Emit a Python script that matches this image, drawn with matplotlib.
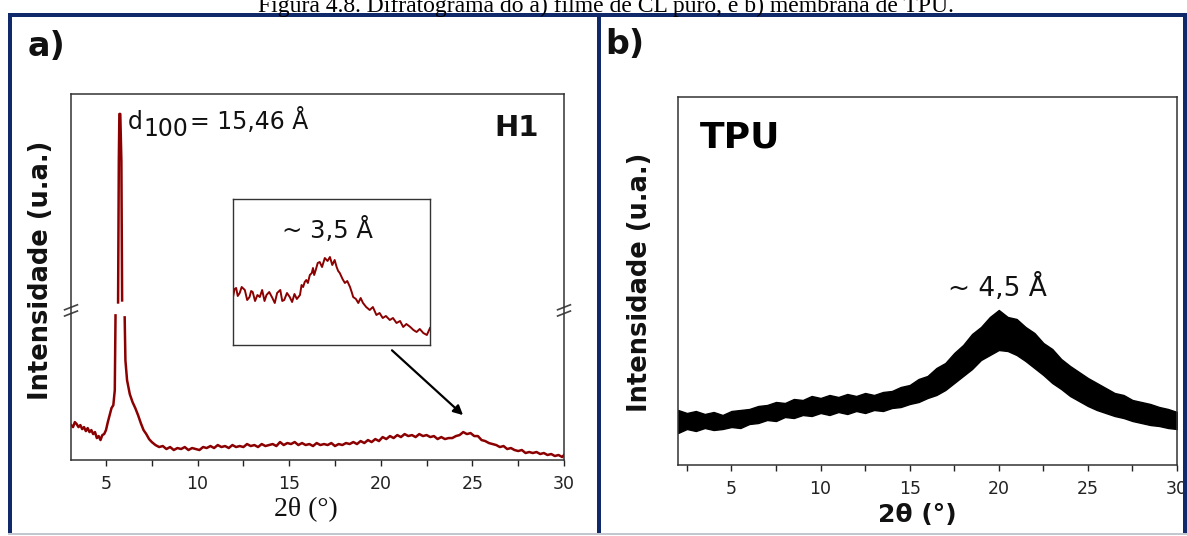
import numpy as np
import matplotlib
matplotlib.use("Agg")
import matplotlib.pyplot as plt
from matplotlib.lines import Line2D
from matplotlib.ticker import MultipleLocator

# ---------------- data ----------------
caption = "Figura 4.8. Difratograma do a) filme de CL puro, e b) membrana de TPU."

# Panel a (H1): 2theta and intensity (a.u.); NaN marks the axis break
h1_tt = [3.10, 3.20, 3.30, 3.40, 3.50, 3.60, 3.70, 3.80, 3.90, 4.00, 4.10, 4.20, 4.30, 4.40,
         4.50, 4.60, 4.70, 4.80, 4.90, 5.00, 5.10, 5.20, 5.30, 5.40, 5.48, 5.52, 5.58,
         5.66, 5.70, 5.73, 5.78, 5.84, 5.88, 5.95,
         6.02, 6.06, 6.15, 6.30, 6.45, 6.60, 6.75, 6.90, 7.05, 7.20, 7.35, 7.50, 7.70, 7.90,
         8.10, 8.30, 8.50, 8.70, 8.90, 9.10, 9.30, 9.50, 9.70, 9.90, 10.1, 10.3, 10.5, 10.7,
         10.9, 11.1, 11.3, 11.5, 11.7, 11.9, 12.1, 12.3, 12.5, 12.7, 12.9, 13.1, 13.3, 13.5,
         13.7, 13.9, 14.1, 14.3, 14.5, 14.7, 14.9, 15.1, 15.3, 15.5, 15.7, 15.9, 16.1, 16.3,
         16.5, 16.7, 16.9, 17.1, 17.3, 17.5, 17.7, 17.9, 18.1, 18.3, 18.5, 18.7, 18.9, 19.1,
         19.3, 19.5, 19.7, 19.9, 20.1, 20.3, 20.5, 20.7, 20.9, 21.1, 21.3, 21.5, 21.7, 21.9,
         22.1, 22.3, 22.5, 22.7, 22.9, 23.1, 23.3, 23.5, 23.7, 23.9, 24.1, 24.3, 24.5, 24.7,
         24.9, 25.1, 25.3, 25.5, 25.7, 25.9, 26.1, 26.3, 26.5, 26.7, 26.9, 27.1, 27.3, 27.5,
         27.7, 27.9, 28.1, 28.3, 28.5, 28.7, 28.9, 29.1, 29.3, 29.5, 29.7, 29.9, 30.0]
h1_int = [35, 33, 38, 36, 33, 35, 31, 33, 29, 32, 28, 30, 26, 28,
          22, 24, 20, 25, 26, 30, 38, 45, 52, 55, 70, 145, np.nan,
          158, 300, 347, 347, 300, 160, np.nan,
          143, 100, 80, 66, 58, 52, 45, 37, 30, 26, 21, 18, 15, 13,
          14, 11, 13, 10, 12, 11, 13, 10, 12, 11, 10, 13, 12, 14,
          12, 15, 13, 14, 12, 15, 13, 14, 13, 16, 14, 15, 13, 16,
          14, 15, 16, 14, 18, 15, 17, 16, 18, 15, 17, 15, 16, 14,
          17, 15, 16, 15, 17, 14, 16, 15, 17, 16, 18, 16, 19, 17,
          20, 18, 21, 19, 23, 21, 24, 22, 25, 23, 26, 24, 25, 23,
          26, 24, 25, 23, 24, 21, 23, 21, 22, 22, 24, 25, 28, 26,
          27, 24, 24, 20, 19, 17, 16, 15, 13, 14, 11, 12, 10, 9,
          10, 7, 8, 7, 8, 6, 7, 5, 6, 4, 5, 3, 5]

# Inset (zoom of the ~3,5 A halo)
ins_tt = [22.00, 22.04, 22.08, 22.12, 22.17, 22.22, 22.30, 22.36, 22.42, 22.46, 22.50, 22.56,
          22.62, 22.68, 22.74, 22.80, 22.85, 22.92, 23.00, 23.06, 23.12, 23.20, 23.25, 23.30,
          23.37, 23.44, 23.50, 23.56, 23.62, 23.70, 23.74, 23.78, 23.82, 23.86, 23.90, 23.95,
          24.00, 24.03, 24.06, 24.10, 24.15, 24.20, 24.26, 24.33, 24.40, 24.46, 24.52, 24.58,
          24.63, 24.67, 24.71, 24.78, 24.84, 24.90, 24.97, 25.02, 25.05, 25.12, 25.18, 25.24,
          25.30, 25.38, 25.47, 25.55, 25.64, 25.72, 25.80, 25.88, 25.98, 26.06, 26.15, 26.24,
          26.32, 26.40, 26.50, 26.58, 26.66, 26.74, 26.83, 26.92, 27.00]
ins_int = [48, 56, 57, 49, 52, 58, 55, 45, 48, 54, 53, 44, 50, 48, 55, 44, 50, 53, 47, 42,
           52, 55, 44, 45, 52, 48, 43, 51, 46, 50, 60, 58, 63, 65, 62, 70, 72, 77, 70, 75,
           82, 83, 78, 87, 84, 88, 80, 85, 78, 74, 72, 66, 62, 64, 58, 52, 48, 46, 42, 47,
           42, 38, 35, 38, 30, 32, 27, 29, 25, 27, 22, 24, 18, 21, 18, 15, 13, 16, 12, 10, 17]

# Panel b (TPU): envelope of the noisy trace
tpu_tt = [2.0, 2.5, 3.0, 3.5, 4.0, 4.5, 5.0, 5.5, 6.0, 6.5, 7.0, 7.5, 8.0, 8.5, 9.0, 9.5,
          10.0, 10.5, 11.0, 11.5, 12.0, 12.5, 13.0, 13.5, 14.0, 14.5, 15.0, 15.5, 16.0, 16.5,
          17.0, 17.5, 18.0, 18.5, 19.0, 19.5, 20.0, 20.5, 21.0, 21.5, 22.0, 22.5, 23.0, 23.5,
          24.0, 24.5, 25.0, 25.5, 26.0, 26.5, 27.0, 27.5, 28.0, 28.5, 29.0, 29.5, 30.0]
tpu_lo = [32, 36, 34, 37, 35, 36, 38, 37, 41, 42, 45, 44, 48, 47, 50, 49,
          52, 50, 53, 51, 54, 52, 55, 54, 57, 58, 61, 63, 67, 70,
          75, 82, 89, 96, 105, 110, 115, 114, 110, 104, 97, 90, 82, 76,
          69, 64, 59, 55, 52, 49, 47, 44, 42, 40, 39, 37, 36]
tpu_hi = [55, 52, 54, 51, 53, 50, 54, 55, 56, 59, 60, 63, 62, 66, 65, 69,
          67, 70, 68, 71, 69, 72, 70, 73, 74, 78, 80, 86, 89, 97,
          102, 112, 120, 131, 138, 148, 155, 148, 146, 138, 132, 122, 116, 106,
          99, 93, 87, 82, 77, 72, 70, 65, 63, 61, 58, 56, 53]

x_major = 5
x_minor = 2.5

# ---------------- figure ----------------
W, H = 1187, 536
fig = plt.figure(figsize=(W / 100, H / 100), dpi=100)


def px_rect(l, t, r, b):
    return [l / W, 1 - b / H, (r - l) / W, (b - t) / H]


def fx(px):
    return px / W


def fy(py):
    return 1 - py / H


navy = "#10296b"
dark_red = "#8b0000"
spine_c = "#333333"

# caption (at the top edge)
fig.text(fx(606), fy(12), caption, family="Liberation Serif", fontsize=17,
         ha="center", va="baseline", color="black")

# frame lines
frame = [((8, 1187), (15, 15), navy, 4),
         ((10, 10), (15, 534), navy, 4),
         ((599, 599), (15, 534), navy, 4),
         ((1185, 1185), (15, 534), navy, 4),
         ((8, 1187), (534, 534), "#c3c7cf", 2)]
for xs, ys, c, w in frame:
    fig.add_artist(Line2D([fx(xs[0]), fx(xs[1])], [fy(ys[0]), fy(ys[1])],
                          transform=fig.transFigure, color=c, lw=w * 0.72,
                          solid_capstyle="butt"))

# ---- panel a ----
axa = fig.add_axes(px_rect(71, 94, 564, 460))
axa.plot(h1_tt, h1_int, color=dark_red, lw=1.8)
axa.set_xlim(3.09, 30)
axa.set_ylim(0, 367)

# ---- panel b ----
axb = fig.add_axes(px_rect(678, 97, 1177, 465))
axb.fill_between(tpu_tt, tpu_lo, tpu_hi, color="black", lw=1.0, edgecolor="black")
axb.set_xlim(2, 30)
axb.set_ylim(0, 368)

for ax in (axa, axb):
    ax.xaxis.set_major_locator(MultipleLocator(x_major))
    ax.xaxis.set_minor_locator(MultipleLocator(x_minor))
    ax.tick_params(axis="x", which="both", direction="out", length=4, width=1,
                   pad=7, labelsize=12.5, colors="#222222")
    ax.set_yticks([])
    for s in ax.spines.values():
        s.set_color(spine_c)
        s.set_linewidth(1.1)

# axis break marks on panel a
yb = (460 - 310) / 367
dx, dy, gap = 0.013, 0.0068, 0.0085
for xs in (0, 1):
    for off in (-gap, gap):
        axa.plot([xs - dx, xs + dx], [yb + off - dy, yb + off + dy],
                 transform=axa.transAxes, color="#444444", lw=1.2, clip_on=False)

# annotations panel a
axa.text(6.2, 332, "d", fontsize=17, family="DejaVu Sans", ha="left", va="baseline", color="#111")
axa.text(7.02, 325, "100", fontsize=17, family="DejaVu Sans", ha="left", va="baseline", color="#111")
axa.text(9.6, 332, "= 15,46 Å", fontsize=17, family="DejaVu Sans", ha="left", va="baseline", color="#111")
axa.text(27.4, 333, "H1", fontsize=21, fontweight="bold", family="DejaVu Sans",
         ha="center", va="center", color="#111")
axa.annotate("", xy=(24.49, 45), xytext=(20.61, 110),
             arrowprops=dict(arrowstyle="-|>", color="black", lw=1.6,
                             mutation_scale=14, shrinkA=0, shrinkB=0))

# inset
axi = fig.add_axes(px_rect(233, 199, 430, 345))
axi.plot(ins_tt, ins_int, color=dark_red, lw=1.4)
axi.set_xlim(22, 27)
axi.set_ylim(0, 146)
axi.set_xticks([])
axi.set_yticks([])
for s in axi.spines.values():
    s.set_color(spine_c)
    s.set_linewidth(1.0)
axi.text(0.477, 0.79, "~ 3,5 Å", transform=axi.transAxes, fontsize=17.5,
         family="DejaVu Sans", ha="center", va="center", color="#111")

# annotations panel b
axb.text(0.044, 0.889, "TPU", transform=axb.transAxes, fontsize=26, fontweight="bold",
         family="DejaVu Sans", ha="left", va="center", color="black")
axb.text(19.9, 177, "~ 4,5 Å", fontsize=19, family="DejaVu Sans",
         ha="center", va="center", color="#111")

# panel letters, y labels, x labels
fig.text(fx(28), fy(47), "a)", fontsize=24, fontweight="bold", family="DejaVu Sans",
         ha="left", va="center", color="#111")
fig.text(fx(605), fy(45), "b)", fontsize=24, fontweight="bold", family="DejaVu Sans",
         ha="left", va="center", color="#111")
fig.text(fx(41), fy(270), "Intensidade (u.a.)", rotation=90, fontsize=18.5, fontweight="bold",
         family="DejaVu Sans", ha="center", va="center", color="#111")
fig.text(fx(640), fy(282), "Intensidade (u.a.)", rotation=90, fontsize=18.5, fontweight="bold",
         family="DejaVu Sans", ha="center", va="center", color="#111")
fig.text(fx(306), fy(510), "2θ (°)", fontsize=20, family="Liberation Serif",
         ha="center", va="center", color="#111")
fig.text(fx(917), fy(515), "2θ (°)", fontsize=18, fontweight="bold", family="DejaVu Sans",
         ha="center", va="center", color="#111")

fig.savefig("out.png", dpi=100)
